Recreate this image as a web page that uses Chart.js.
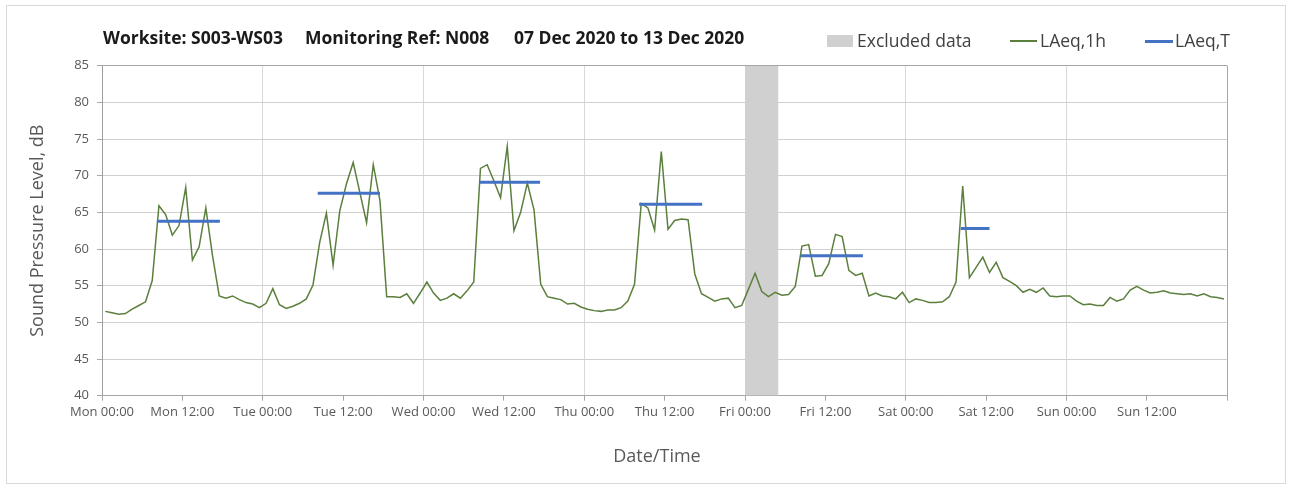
<!DOCTYPE html>
<html>
<head>
<meta charset="utf-8">
<script src="https://cdn.jsdelivr.net/npm/chart.js@4.4.0/dist/chart.umd.min.js"></script>
<style>
html,body{margin:0;padding:0;background:#fff;}
#wrap{position:relative;width:1295px;height:490px;overflow:hidden;background:#fff;}
#frame{position:absolute;left:6px;top:5px;width:1280px;height:479px;border:1px solid #d9d9d9;box-sizing:border-box;}
canvas{position:absolute;left:0;top:0;}
.t{position:absolute;top:25px;font:bold 17.5px 'Open Sans',sans-serif;color:#1a1a1a;white-space:nowrap;}
.lg{position:absolute;top:28px;font:17.5px 'Open Sans',sans-serif;color:#404040;white-space:nowrap;line-height:24px;}
.sw{position:absolute;}
#xt{position:absolute;left:557px;width:200px;top:443px;text-align:center;font:18px 'Open Sans',sans-serif;color:#595959;line-height:24px;}
</style>
</head>
<body>
<div id="wrap">
  <div id="frame"></div>
  <canvas id="c" width="1295" height="490"></canvas>
  <div class="t" style="left:103px">Worksite: S003-WS03</div>
  <div class="t" style="left:305px">Monitoring Ref: N008</div>
  <div class="t" style="left:514px">07 Dec 2020 to 13 Dec 2020</div>
  <div class="sw" style="left:827px;top:35px;width:26px;height:12px;background:#d0d0d0"></div>
  <div class="lg" style="left:857px">Excluded data</div>
  <div class="sw" style="left:1010px;top:40px;width:27px;height:1.5px;background:#5b7f3c"></div>
  <div class="lg" style="left:1040px">LAeq,1h</div>
  <div class="sw" style="left:1145px;top:40px;width:28px;height:3px;background:#4472c4"></div>
  <div class="lg" style="left:1175px">LAeq,T</div>
  <div id="xt">Date/Time</div>
</div>
<script>
// Hour midpoints since Mon 00:00 (hourly LAeq values, plotted at the middle of each hour)
const hours = Array.from({length: 168}, (_, i) => i + 0.5);

// LAeq,1h values, dB
const laeq1h = [
  51.5,51.3,51.1,51.2,51.8,52.3,52.8,55.7,65.9,64.7,61.9,63.2,68.4,58.5,60.3,65.6,59.1,53.6,53.3,53.6,53.1,52.7,52.5,52.0,
  52.6,54.6,52.4,51.9,52.2,52.6,53.2,55.1,60.9,64.9,57.8,65.2,68.9,71.8,67.7,63.6,71.5,66.6,53.5,53.5,53.4,53.9,52.6,54.0,
  55.5,54.0,53.0,53.3,53.9,53.3,54.3,55.5,71.0,71.5,69.3,67.0,74.0,62.5,65.0,69.0,65.3,55.2,53.5,53.3,53.1,52.5,52.6,52.1,
  51.8,51.6,51.5,51.7,51.7,52.0,52.9,55.2,66.2,65.6,62.6,73.3,62.7,63.9,64.1,64.0,56.6,53.9,53.4,52.9,53.2,53.3,52.0,52.3,
  54.5,56.7,54.2,53.5,54.1,53.7,53.8,54.9,60.4,60.6,56.3,56.4,58.0,62.0,61.7,57.1,56.4,56.7,53.6,54.0,53.6,53.5,53.2,54.1,
  52.7,53.2,53.0,52.7,52.7,52.8,53.5,55.5,68.6,56.1,57.5,58.9,56.8,58.2,56.1,55.6,55.0,54.1,54.5,54.1,54.7,53.6,53.5,53.6,
  53.6,52.9,52.4,52.5,52.3,52.3,53.4,52.9,53.2,54.4,54.9,54.4,54.0,54.1,54.3,54.0,53.9,53.8,53.9,53.6,53.9,53.5,53.4,53.2
];

// LAeq,T (working-period averages): start hour, end hour, level
const periodStart = [8.3, 32.2, 56.3, 80.2, 104.3, 128.2];
const periodEnd   = [17.6, 41.5, 65.4, 89.6, 113.6, 132.5];
const periodLevel = [63.8, 67.6, 69.1, 66.1, 59.1, 62.8];

// Excluded data window (hours since Mon 00:00)
const excludedStart = [96];
const excludedEnd = [101];

// X tick labels every 12 hours
const tickLabels = ['Mon 00:00','Mon 12:00','Tue 00:00','Tue 12:00','Wed 00:00','Wed 12:00','Thu 00:00',
  'Thu 12:00','Fri 00:00','Fri 12:00','Sat 00:00','Sat 12:00','Sun 00:00','Sun 12:00'];

const yMin = 40, yMax = 85, xMax = 168;

const greenData = hours.map((h, i) => ({x: h, y: laeq1h[i]}));
const blueData = [];
periodStart.forEach((s, i) => {
  blueData.push({x: s, y: periodLevel[i]});
  blueData.push({x: periodEnd[i], y: periodLevel[i]});
  blueData.push({x: periodEnd[i], y: null});
});
const bandData = [];
excludedStart.forEach((s, i) => {
  bandData.push({x: s, y: yMax});
  bandData.push({x: excludedEnd[i], y: yMax});
});

const tickFont = {family: "'Open Sans', sans-serif", size: 13};
const titleFont = {family: "'Open Sans', sans-serif", size: 18};

new Chart(document.getElementById('c'), {
  type: 'line',
  data: {
    datasets: [
      {label: 'Excluded data', data: bandData, borderWidth: 0, pointRadius: 0, fill: 'start',
       backgroundColor: '#d0d0d0', borderColor: 'rgba(0,0,0,0)', order: 3},
      {label: 'LAeq,1h', data: greenData, borderColor: '#5b7f3c', borderWidth: 1.5, pointRadius: 0,
       tension: 0, fill: false, order: 2},
      {label: 'LAeq,T', data: blueData, borderColor: '#4472c4', borderWidth: 3, pointRadius: 0,
       spanGaps: false, fill: false, borderCapStyle: 'butt', order: 1}
    ]
  },
  options: {
    responsive: false,
    animation: false,
    devicePixelRatio: 1,
    layout: {padding: {left: 0, top: 65.7, right: 67.7, bottom: 0}},
    plugins: {legend: {display: false}, tooltip: {enabled: false}, title: {display: false}},
    scales: {
      x: {
        type: 'linear', min: 0, max: xMax,
        ticks: {stepSize: 12, autoSkip: false, maxRotation: 0, minRotation: 0, color: '#595959', font: tickFont, padding: 4,
          callback: (v) => (tickLabels[v / 12] !== undefined ? tickLabels[v / 12] : '')},
        grid: {
          color: (ctx) => ctx.tick && ctx.tick.value === xMax ? '#a6a6a6' : (ctx.tick && ctx.tick.value % 24 === 0 ? '#d9d9d9' : 'rgba(0,0,0,0)'),
          tickColor: '#a6a6a6', tickLength: 5, drawTicks: true, lineWidth: 1
        },
        border: {color: '#a6a6a6', width: 1},
        title: {display: false},
        afterFit: (s) => { s.height = 94.3; }
      },
      y: {
        min: yMin, max: yMax,
        ticks: {stepSize: 5, color: '#595959', font: tickFont, padding: 8},
        grid: {
          color: (ctx) => ctx.tick && ctx.tick.value === yMax ? '#a6a6a6' : '#d0d0d0',
          tickColor: '#a6a6a6', tickLength: 5, drawTicks: true, lineWidth: 1
        },
        border: {color: '#a0a0a0', width: 1},
        title: {display: true, text: 'Sound Pressure Level, dB', color: '#595959', font: titleFont, padding: {top: 27.2, bottom: 0}},
        afterFit: (s) => { s.width = 102; }
      }
    }
  }
});
</script>
</body>
</html>
